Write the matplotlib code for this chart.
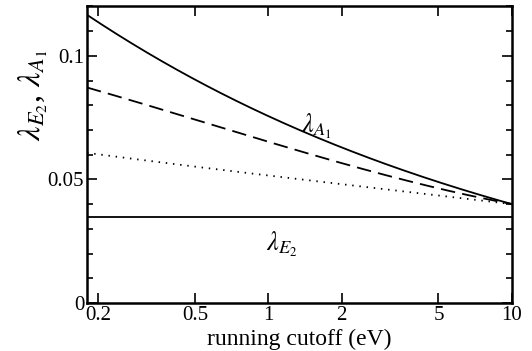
import matplotlib

matplotlib.use("Agg")
import matplotlib.pyplot as plt
import numpy as np
from matplotlib.ticker import FixedLocator, MultipleLocator, NullFormatter

# values
cutoff = [0.18, 0.3, 0.5, 1.0, 2.0, 3.0, 5.0, 10.0]
lam_a1 = [0.1165, 0.1032, 0.0900, 0.0755, 0.0637, 0.0557, 0.0491, 0.0400]
lam_dash = [0.0870, 0.0812, 0.0743, 0.0645, 0.0574, 0.0514, 0.0465, 0.0400]
lam_dot = [0.0607, 0.0580, 0.0552, 0.0514, 0.0482, 0.0460, 0.0435, 0.0400]
lam_e2 = 0.0349

xticks = [0.2, 0.5, 1, 2, 5, 10]
xticklabels = ["0.2", "0.5", "1", "2", "5", "10"]
yticks = [0, 0.05, 0.1]
yticklabels = ["0", "0.05", "0.1"]

plt.rcParams["font.family"] = ["Liberation Serif", "DejaVu Serif"]
plt.rcParams["mathtext.fontset"] = "stix"

fig = plt.figure(figsize=(5.32, 3.51), dpi=100)
ax = fig.add_axes([0.1635, 0.137, 0.7985, 0.846])

# smooth curve through the read points (cubic in log x)
xs = np.logspace(np.log10(cutoff[0]), np.log10(cutoff[-1]), 200)
lx = np.log10(cutoff)
for ys, kw in [
    (lam_a1, dict(ls="-")),
    (lam_dash, dict(ls=(0, (8, 4)))),
    (lam_dot, dict(ls=(0, (0.8, 3.2)))),
]:
    p = np.polyfit(lx, ys, 3)
    ax.plot(xs, np.polyval(p, np.log10(xs)), color="k", lw=1.3, **kw)
ax.axhline(lam_e2, color="k", lw=1.3)

ax.set_xscale("log")
ax.set_xlim(cutoff[0], 10)
ax.set_ylim(0, 0.1202)
ax.xaxis.set_major_locator(FixedLocator(xticks))
ax.set_xticklabels(xticklabels)
ax.xaxis.set_minor_locator(FixedLocator([]))
ax.xaxis.set_minor_formatter(NullFormatter())
ax.yaxis.set_major_locator(FixedLocator(yticks))
ax.set_yticklabels(yticklabels)
ax.yaxis.set_minor_locator(MultipleLocator(0.01))

ax.tick_params(which="both", direction="in", top=True, right=True, width=1.2,
               labelsize=15, pad=2)
ax.tick_params(which="major", length=7)
ax.tick_params(which="minor", length=4)
for s in ax.spines.values():
    s.set_linewidth(1.8)

ax.set_xlabel("running cutoff (eV)", fontsize=17, labelpad=3)
ax.set_ylabel(r"$\lambda_{E_2}$, $\lambda_{A_1}$", fontsize=23)
ax.yaxis.set_label_coords(-0.088, 0.70)

ax.text(1.36, 0.0715, r"$\lambda_{A_1}$", fontsize=19, ha="left", va="center")
ax.text(0.98, 0.0235, r"$\lambda_{E_2}$", fontsize=19, ha="left", va="center")

fig.savefig("out.png", dpi=100)
